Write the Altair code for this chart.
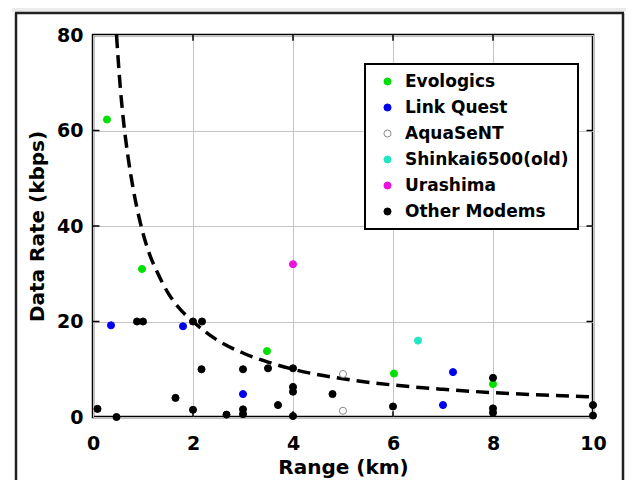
import altair as alt
import pandas as pd

# ---- data ----
series_names = ["Evologics", "Link Quest", "AquaSeNT", "Shinkai6500(old)", "Urashima", "Other Modems"]
series_fill = ["#00e000", "#0000f0", "#ffffff", "#22e6c4", "#ee10e0", "#000000"]
series_stroke = ["#00e000", "#0000f0", "#888888", "#22e6c4", "#ee10e0", "#000000"]

evo_x = [0.28, 0.98, 3.48, 6.02, 8.0]
evo_y = [62.3, 31.0, 13.8, 9.1, 6.9]
lq_x = [0.36, 1.8, 3.0, 7.2, 7.0]
lq_y = [19.2, 19.0, 4.8, 9.4, 2.5]
aq_x = [5.0, 5.0]
aq_y = [9.0, 1.3]
sh_x = [6.5]
sh_y = [16.0]
ura_x = [4.0]
ura_y = [32.0]
oth_x = [0.09, 0.47, 0.88, 1.0, 1.65, 2.0, 2.0, 2.17, 2.18, 2.67, 3.0, 3.0, 3.0, 3.5,
         3.7, 4.0, 4.0, 4.0, 4.0, 4.79, 6.0, 8.0, 8.0, 8.0, 10.0, 10.0]
oth_y = [1.7, 0.0, 20.0, 20.0, 4.0, 20.0, 1.5, 10.0, 20.0, 0.5, 10.0, 1.6, 0.6, 10.2,
         2.5, 10.2, 6.3, 5.3, 0.2, 4.8, 2.2, 8.2, 1.8, 0.9, 2.5, 0.3]

# dashed trend curve, read point by point
curve_x = [0.47, 0.55, 0.61, 0.7, 0.8, 0.95, 1.1, 1.3, 1.5, 1.75, 2.0, 2.5, 3.0, 3.5,
           4.0, 5.0, 6.0, 7.0, 8.0, 9.0, 10.0]
curve_y = [80.0, 68.5, 62.0, 54.5, 48.0, 40.5, 35.0, 30.0, 26.0, 22.5, 20.0, 16.0, 13.4,
           11.5, 10.0, 8.0, 6.7, 5.8, 5.1, 4.6, 4.2]

x_ticks = [0, 2, 4, 6, 8, 10]
y_ticks = [0, 20, 40, 60, 80]
x_inner = [2, 4, 6, 8]
y_inner = [20, 40, 60]

FONT = "DejaVu Sans"

# ---- tables ----
rows = []
for name, xs, ys in [("Evologics", evo_x, evo_y), ("Link Quest", lq_x, lq_y),
                     ("AquaSeNT", aq_x, aq_y), ("Shinkai6500(old)", sh_x, sh_y),
                     ("Urashima", ura_x, ura_y), ("Other Modems", oth_x, oth_y)]:
    for a, b in zip(xs, ys):
        rows.append({"series": name, "range": a, "rate": b})
pts = pd.DataFrame(rows)
curve = pd.DataFrame({"range": curve_x, "rate": curve_y})

xscale = alt.Scale(domain=[0, 10], nice=False)
yscale = alt.Scale(domain=[0, 80], nice=False)

xaxis = alt.Axis(values=x_ticks, ticks=False, domain=False, labelPadding=17,
                 labelFlush=False, titlePadding=4, gridColor="#c4c4c4", gridWidth=1)
yaxis = alt.Axis(values=y_ticks, ticks=False, domain=False, labelPadding=10,
                 labelFlush=False, titlePadding=9, gridColor="#c4c4c4", gridWidth=1)

line = alt.Chart(curve).mark_line(color="black", strokeWidth=3.5, strokeDash=[13, 7],
                                  interpolate="monotone").encode(
    x=alt.X("range:Q", scale=xscale, axis=xaxis, title="Range (km)"),
    y=alt.Y("rate:Q", scale=yscale, axis=yaxis, title="Data Rate (kbps)"),
)

points = alt.Chart(pts).mark_circle(size=50, opacity=1, strokeWidth=1).encode(
    x=alt.X("range:Q", scale=xscale),
    y=alt.Y("rate:Q", scale=yscale),
    fill=alt.Fill("series:N", scale=alt.Scale(domain=series_names, range=series_fill),
                  legend=alt.Legend(title=None)),
    stroke=alt.Stroke("series:N", scale=alt.Scale(domain=series_names, range=series_stroke),
                      legend=alt.Legend(title=None)),
)

# inward ticks on the four sides
tx = pd.DataFrame({"range": x_inner})
ty = pd.DataFrame({"rate": y_inner})
top_ticks = alt.Chart(tx).mark_rule(color="black", strokeWidth=1.5).encode(
    x="range:Q", y=alt.datum(80), y2=alt.datum(78.8))
bot_ticks = alt.Chart(tx).mark_rule(color="black", strokeWidth=1.5).encode(
    x="range:Q", y=alt.datum(0), y2=alt.datum(1.2))
left_ticks = alt.Chart(ty).mark_rule(color="black", strokeWidth=1.5).encode(
    y="rate:Q", x=alt.datum(0), x2=alt.datum(0.13))
right_ticks = alt.Chart(ty).mark_rule(color="black", strokeWidth=1.5).encode(
    y="rate:Q", x=alt.datum(10), x2=alt.datum(9.87))

# decorative outer frame of the figure
one = pd.DataFrame({"k": [0]})
band = alt.Chart(one).mark_rect(color="#ebebeb").encode(
    x=alt.value(-81), x2=alt.value(533), y=alt.value(-29), y2=alt.value(-23))
frame_l = alt.Chart(one).mark_rule(color="#222222", strokeWidth=2.5).encode(
    x=alt.value(-77), y=alt.value(-22), y2=alt.value(460))
frame_t = alt.Chart(one).mark_rule(color="#222222", strokeWidth=2.5).encode(
    x=alt.value(-78), x2=alt.value(531), y=alt.value(-22))
frame_r = alt.Chart(one).mark_rule(color="#222222", strokeWidth=2.5).encode(
    x=alt.value(530), y=alt.value(-22), y2=alt.value(460))

chart = alt.layer(
    band, frame_l, frame_t, frame_r, line, points, top_ticks, bot_ticks, left_ticks, right_ticks
).properties(
    width=500, height=382,
    autosize=alt.AutoSizeParams(type="none"),
    padding={"left": 85, "top": 27, "right": 33, "bottom": 63},
    background="white",
).configure_view(
    stroke="black", strokeWidth=2.5
).configure_axis(
    labelFont=FONT, labelFontSize=19, labelFontWeight="bold", labelColor="black",
    titleFont=FONT, titleFontSize=20, titleFontWeight="bold", titleColor="black",
).configure_legend(
    orient="none", legendX=272, legendY=29,
    fillColor="white", strokeColor="black", strokeWidth=2, padding=9,
    labelFont=FONT, labelFontSize=17, labelFontWeight="bold", labelColor="black",
    labelLimit=300, symbolSize=50, symbolStrokeWidth=1, symbolOffset=5,
    labelOffset=9, rowPadding=8, symbolType="circle",
)

chart.save("out.html", embed_options={"renderer": "svg", "actions": False})
